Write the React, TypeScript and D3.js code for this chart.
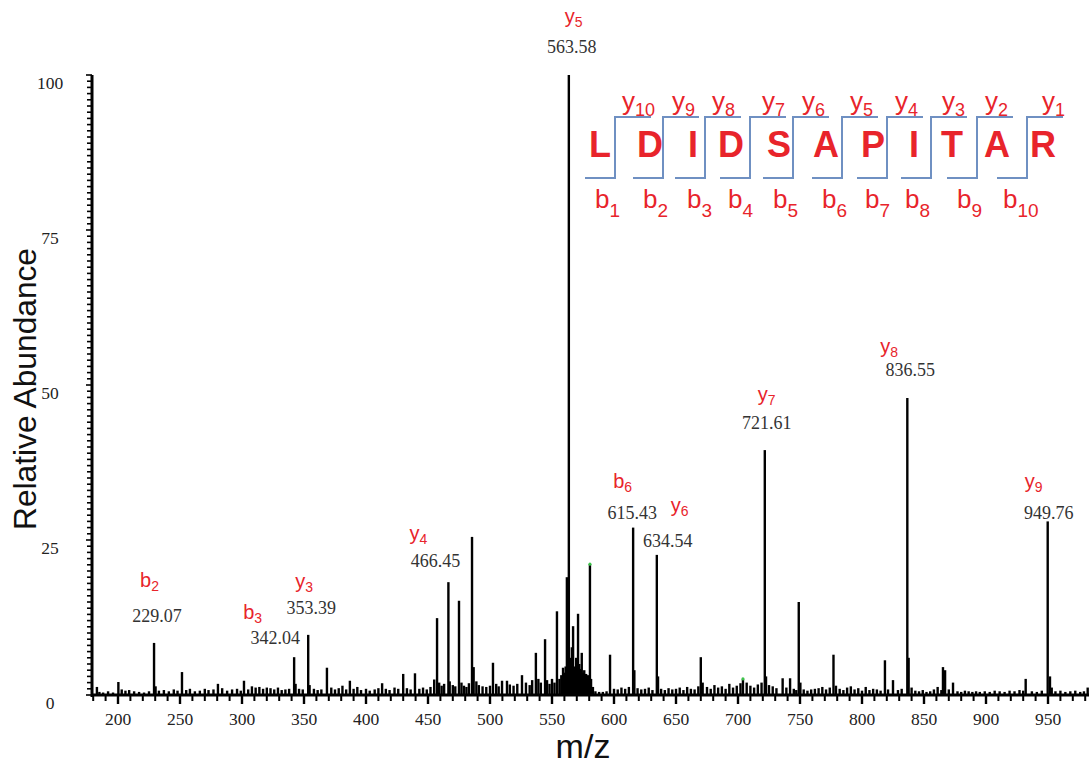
import React from 'react';
import * as d3 from 'd3';

const W = 1089;
const H = 764;

// Annotated fragment ions: m/z, relative abundance, ion series and index
const ionMz = [229.07, 342.04, 353.39, 466.45, 563.58, 615.43, 634.54, 721.61, 836.55, 949.76];
const ionAbundance = [8.4, 6.1, 9.7, 18.2, 100, 27.0, 22.6, 39.5, 47.9, 28.0];
const ionSeries = ['b', 'b', 'y', 'y', 'y', 'b', 'y', 'y', 'y', 'y'];
const ionIndex = ['2', '3', '3', '4', '5', '6', '6', '7', '8', '9'];

// Other prominent peaks [m/z, relative abundance]
const otherPeaks: [number, number][] = [
  [183, 1.3], [200.3, 2.1], [251.6, 3.7], [280.6, 1.8], [301.6, 2.3], [368.5, 4.4],
  [387, 2.3], [413, 1.9], [430, 3.4], [439.5, 3.5], [455, 2.5], [457.3, 12.4],
  [475, 15.2], [485.5, 25.5], [502.4, 5.2], [509.7, 2.3], [513.7, 2.3], [525.8, 3.2],
  [537, 6.8], [544.4, 9.0], [554, 13.5], [558.9, 4.4], [562, 19.0], [566, 7.7],
  [567, 11.1], [571, 13.1], [574, 6.8], [580.6, 21.1], [596.8, 6.5], [670, 6.1],
  [704, 2.6], [736, 2.7], [742, 2.7], [749, 15.0], [777, 6.5], [818.5, 5.6],
  [825, 2.4], [865.3, 4.5], [867, 4.0], [873.4, 2.0], [932, 2.6], [951.6, 3.0], [982, 1.2],
];

// Low-level signal along the baseline [m/z, relative abundance]
const baselinePeaks: [number, number][] = [
  [185, 0.5], [188, 0.4], [192, 0.6], [196, 0.4], [203, 0.9], [206, 0.7], [209, 0.8],
  [213, 0.6], [217, 0.5], [221, 0.4], [225, 0.6], [230.3, 1.4], [233, 0.7], [237, 0.8],
  [241, 0.6], [245, 0.9], [248, 0.7], [255, 0.8], [258, 1.0], [262, 0.6], [266, 0.7],
  [270, 1.0], [273, 0.8], [277, 0.9], [284, 1.1], [288, 0.7], [292, 0.9], [296, 1.0],
  [299, 0.7], [305, 0.9], [308, 1.4], [311, 1.2], [314, 1.3], [317, 1.0], [320, 1.2],
  [323, 1.1], [326, 0.9], [329, 1.2], [332, 0.8], [335, 0.9], [338, 1.0], [343.2, 1.8],
  [346, 1.0], [349, 0.9], [354.5, 1.6], [358, 1.0], [361, 0.8], [364, 0.9], [372, 1.2],
  [375, 0.9], [378, 1.1], [381, 1.5], [384, 0.9], [390, 1.0], [393, 1.3], [396, 0.8],
  [400, 1.0], [403, 0.7], [407, 0.9], [410, 1.1], [416, 1.0], [419, 0.8], [423, 1.2],
  [426, 1.0], [433, 1.1], [436, 0.9], [443, 1.0], [446, 1.2], [449, 0.9], [452, 1.3],
  [459, 2.0], [461, 1.5], [463, 1.8], [467.5, 2.2], [470, 1.6], [472, 1.4], [477, 2.0],
  [479, 1.5], [481, 1.3], [483, 1.9], [486.8, 4.5], [489, 2.2], [491, 1.6], [494, 1.4],
  [497, 1.3], [500, 1.5], [505, 1.8], [507, 1.4], [516, 1.7], [519, 1.5], [522, 1.8],
  [529, 2.0], [532, 1.6], [534, 2.4], [539, 2.6], [541, 2.0], [546, 2.4], [548, 1.8],
  [550, 2.6], [552, 2.0], [556, 2.6], [557.5, 3.2], [560, 3.6], [561, 4.6], [563, 5.4],
  [564.6, 4.4], [565, 6.0], [568.5, 4.6], [569.5, 6.0], [570.3, 3.8],
  [572, 5.0], [573, 4.2], [575, 3.6], [576, 4.0], [577.5, 3.4], [579, 3.2],
  [581.5, 2.6], [583, 1.3], [585, 0.6], [588, 0.5], [591, 0.5], [594, 0.6], [600, 1.0],
  [603, 0.9], [606, 1.2], [609, 1.0], [612, 1.3], [616.4, 4.0], [619, 1.1], [622, 0.9],
  [625, 1.0], [628, 1.2], [631, 0.8], [635.5, 3.0], [638, 1.0], [641, 0.8], [644, 1.1],
  [647, 0.9], [650, 1.0], [653, 1.2], [656, 0.8], [659, 1.3], [662, 1.0], [665, 0.9],
  [668, 1.4], [671.5, 2.0], [675, 1.3], [678, 1.0], [681, 1.6], [684, 1.2], [687, 1.4],
  [690, 1.0], [693, 1.8], [696, 1.2], [699, 1.5], [702, 1.9], [707, 2.0], [710, 1.5],
  [713, 1.2], [716, 1.7], [719, 2.0], [722.6, 3.0], [725, 1.6], [728, 1.4], [731, 1.1],
  [739, 1.2], [745, 1.0], [747, 0.8], [750.3, 2.0], [753, 0.9], [756, 0.7], [759, 0.9],
  [762, 1.0], [765, 1.1], [768, 1.3], [771, 0.9], [774, 1.2], [779, 1.5], [782, 1.0],
  [785, 0.8], [788, 1.2], [791, 1.4], [794, 0.9], [797, 1.1], [800, 0.7], [803, 1.3],
  [806, 0.8], [809, 1.0], [812, 0.9], [815, 0.7], [821, 0.9], [829, 0.8], [832, 1.0],
  [837.6, 6.0], [840, 1.2], [843, 0.7], [846, 0.6], [849, 0.8], [852, 0.5], [855, 0.6],
  [858, 0.9], [861, 1.3], [864, 0.8], [870, 0.9], [877, 0.6], [880, 0.5], [883, 0.7],
  [886, 0.6], [889, 0.5], [892, 0.6], [895, 0.5], [899, 0.6], [903, 0.5], [907, 0.7],
  [911, 0.6], [915, 0.5], [919, 0.7], [923, 0.6], [927, 0.8], [930, 0.7], [937, 0.6],
  [941, 0.5], [945, 0.7], [953, 1.2], [956, 0.6], [960, 0.7], [964, 0.5], [968, 0.6],
  [972, 0.7], [976, 0.5], [979, 0.6],
];

// Peaks flagged by the acquisition software
const flaggedMz = [580.6, 704];

// Peptide sequence and its fragment ladder
const residues = ['L', 'D', 'I', 'D', 'S', 'A', 'P', 'I', 'T', 'A', 'R'];

const xTicks = d3.range(180, 990, 10);
const xTickLabels = d3.range(200, 1000, 50);
const yTickLabels = [0, 25, 50, 75, 100];
const yMinorTicks = d3.range(0, 101, 1);

// Layout of the annotation labels relative to their peak (pixels)
const labelLayout = [
  { numDx: 3, numY: 622, ionDx: -14, ionY: 587 },
  { numDx: -19, numY: 644, ionDx: -51, ionY: 619 },
  { numDx: 3, numY: 614, ionDx: -13, ionY: 588 },
  { numDx: -13, numY: 567, ionDx: -39, ionY: 540 },
  { numDx: 3, numY: 53, ionDx: -4, ionY: 23 },
  { numDx: -1, numY: 519, ionDx: -20, ionY: 488 },
  { numDx: 11, numY: 547, ionDx: 14, ionY: 512 },
  { numDx: 2, numY: 429, ionDx: -7, ionY: 401 },
  { numDx: 3, numY: 376, ionDx: -27, ionY: 353 },
  { numDx: 1, numY: 519, ionDx: -23, ionY: 488 },
];

// Sequence ladder layout
const residueX = [600, 650, 693, 731, 779, 826, 873, 914, 952, 997, 1043];
const cleavageX = [615, 663, 705, 750, 793, 842, 887, 931, 977, 1027];
const yLabelX = [622, 672, 712, 762, 802, 850, 895, 942, 985, 1042];
const bLabelX = [595, 643, 687, 728, 773, 822, 865, 905, 957, 1003];

const RED = '#e8242b';
const BLUE = '#6f90c2';
const SANS = 'Arial, "Liberation Sans", sans-serif';
const SERIF = '"Times New Roman", "Liberation Serif", serif';

export default function App() {
  const x = d3.scaleLinear().domain([200, 950]).range([118, 1048]);
  const y = d3.scaleLinear().domain([0, 100]).range([695, 75]);
  const x0 = 92;
  const base = y(0);

  const annotated: [number, number][] = ionMz.map((m, i) => [m, ionAbundance[i]]);
  const sticks = [...baselinePeaks, ...otherPeaks, ...annotated];

  const topOf = (m: number) => {
    const hit = [...otherPeaks, ...annotated].find((p) => p[0] === m);
    return hit ? hit[1] : 0;
  };

  const n = residues.length;

  return (
    <svg width={W} height={H} style={{ display: 'block', position: 'absolute', left: 0, top: 0, background: '#fff' }}>
      <rect width={W} height={H} fill="#fff" />

      {/* spectrum sticks */}
      {sticks.map(([m, v], i) => (
        <line key={'s' + i} x1={x(m)} x2={x(m)} y1={base} y2={y(v)} stroke="#000" strokeWidth={2.4} />
      ))}
      {flaggedMz.map((m, i) => (
        <circle key={'f' + i} cx={x(m)} cy={y(topOf(m))} r={1.6} fill="#3cc24a" />
      ))}

      {/* x axis */}
      <line x1={x0} x2={W} y1={base} y2={base} stroke="#000" strokeWidth={3} />
      {xTicks.map((t) => {
        const major = t % 50 === 0;
        return (
          <line key={'xt' + t} x1={x(t)} x2={x(t)} y1={base} y2={base + (major ? 9 : 6)} stroke="#000" strokeWidth={major ? 2.4 : 2} />
        );
      })}
      {xTickLabels.map((t) => (
        <text key={'xl' + t} x={x(t)} y={725} textAnchor="middle" fontFamily={SERIF} fontSize={17.5} fill="#222">
          {t}
        </text>
      ))}

      {/* y axis */}
      <line x1={x0} x2={x0} y1={y(100)} y2={base + 2} stroke="#000" strokeWidth={3} />
      {yMinorTicks.map((t) => (
        <line key={'yt' + t} x1={x0 - (t % 25 === 0 ? 6 : 5)} x2={x0} y1={y(t)} y2={y(t)} stroke="#000" strokeWidth={1.6} />
      ))}
      {yTickLabels.map((t) => (
        <text key={'yl' + t} x={50} y={y(t) + 14} textAnchor="middle" fontFamily={SERIF} fontSize={17.5} fill="#222">
          {t}
        </text>
      ))}

      {/* axis titles */}
      <text x={583} y={758} textAnchor="middle" fontFamily={SANS} fontSize={34} fill="#111">
        m/z
      </text>
      <text
        transform="translate(36,389) rotate(-90)"
        textAnchor="middle"
        fontFamily={SANS}
        fontSize={32}
        fill="#111"
        textLength={282}
        lengthAdjust="spacingAndGlyphs"
      >
        Relative Abundance
      </text>

      {/* peak annotations */}
      {ionMz.map((m, i) => {
        const L = labelLayout[i];
        const px = x(m);
        return (
          <g key={'a' + i}>
            <text x={px + L.ionDx} y={L.ionY} fontFamily={SANS} fontSize={20} fill={RED}>
              {ionSeries[i]}
              <tspan fontSize={14} dy={4}>{ionIndex[i]}</tspan>
            </text>
            <text x={px + L.numDx} y={L.numY} textAnchor="middle" fontFamily={SERIF} fontSize={18} fill="#333">
              {m.toFixed(2)}
            </text>
          </g>
        );
      })}

      {/* sequence ladder */}
      {residues.map((r, i) => (
        <text key={'r' + i} x={residueX[i]} y={157} textAnchor="middle" fontFamily={SANS} fontWeight="bold" fontSize={36} fill={RED}>
          {r}
        </text>
      ))}
      {cleavageX.map((cx, i) => (
        <path
          key={'c' + i}
          d={`M${cx - 30},178 L${cx},178 L${cx},117 L${cx + 36},117`}
          fill="none"
          stroke={BLUE}
          strokeWidth={2}
        />
      ))}
      {cleavageX.map((_, i) => (
        <text key={'yi' + i} x={yLabelX[i]} y={110} fontFamily={SANS} fontSize={26} fill={RED}>
          y
          <tspan fontSize={18} dy={6}>{n - 1 - i}</tspan>
        </text>
      ))}
      {cleavageX.map((_, i) => (
        <text key={'bi' + i} x={bLabelX[i]} y={208} fontFamily={SANS} fontSize={26} fill={RED}>
          b
          <tspan fontSize={19} dy={9}>{i + 1}</tspan>
        </text>
      ))}
    </svg>
  );
}
